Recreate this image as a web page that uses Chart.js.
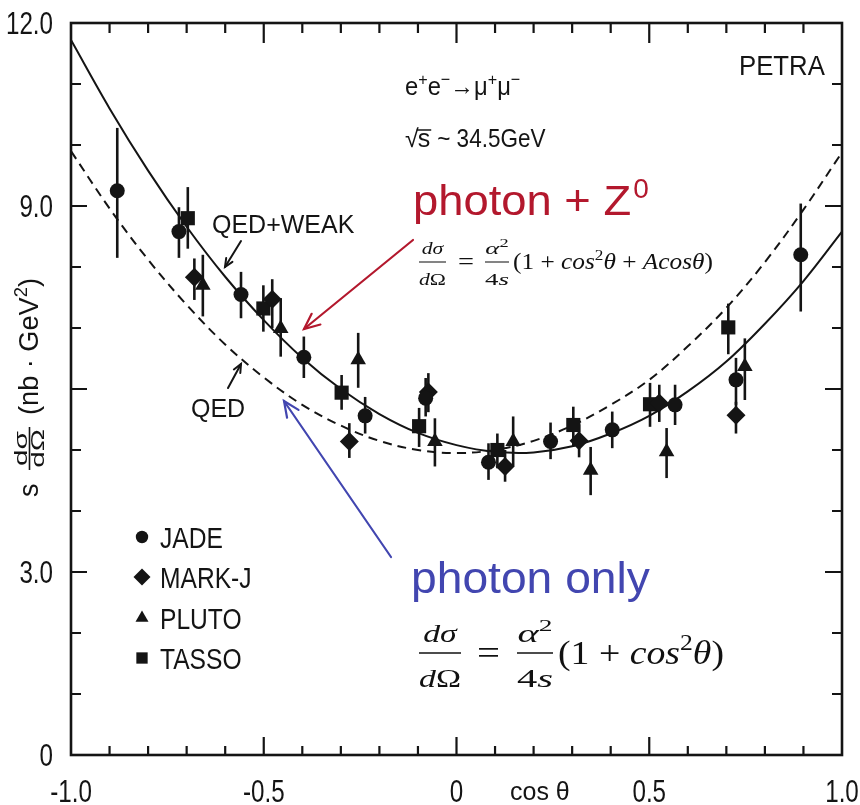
<!DOCTYPE html>
<html><head><meta charset="utf-8">
<script src="https://cdn.jsdelivr.net/npm/chart.js@4.4.1/dist/chart.umd.min.js"></script>
<style>html,body{margin:0;padding:0;background:#fff}canvas{display:block}</style>
</head><body>
<canvas id="c" width="860" height="805"></canvas>
<script>
// ---------------- data ----------------
const curveCos = [-1.0,-0.9,-0.8,-0.7,-0.6,-0.5,-0.4,-0.3,-0.2,-0.1,0.0,0.1,0.2,0.3,0.4,0.5,0.6,0.7,0.8,0.9,1.0];
const qedWeakCurve = [11.72,10.60,9.58,8.66,7.84,7.13,6.51,6.00,5.59,5.28,5.08,4.97,4.96,5.06,5.27,5.56,5.96,6.45,7.07,7.77,8.58];
const qedCurve     = [9.90,8.96,8.12,7.38,6.73,6.19,5.74,5.40,5.15,5.00,4.95,5.00,5.15,5.40,5.74,6.15,6.70,7.33,8.08,8.94,9.88];

const jadeCos = [-0.88,-0.72,-0.559,-0.396,-0.237,-0.08,0.083,0.244,0.404,0.567,0.725,0.893];
const jadeVal = [9.25,8.58,7.55,6.52,5.56,5.85,4.80,5.14,5.33,5.74,6.15,8.20];
const jadeLo  = [8.15,8.15,7.16,6.18,5.27,5.55,4.51,4.85,5.03,5.41,5.74,7.27];
const jadeHi  = [10.28,8.98,7.92,6.86,5.87,6.18,5.11,5.45,5.63,6.07,6.51,9.04];

const markCos = [-0.68,-0.478,-0.278,-0.073,0.126,0.318,0.526,0.725];
const markVal = [7.83,7.47,5.14,5.95,4.73,5.15,5.77,5.57];
const markLo  = [7.46,7.00,4.87,5.62,4.48,4.88,5.46,5.27];
const markHi  = [8.14,7.80,5.44,6.26,5.00,5.42,6.07,5.79];

const plutoCos = [-0.658,-0.456,-0.255,-0.056,0.147,0.348,0.545,0.748];
const plutoVal = [7.70,6.99,6.48,5.14,5.14,4.67,4.97,6.37];
const plutoLo  = [7.19,6.53,6.02,4.73,4.73,4.26,4.54,5.82];
const plutoHi  = [8.20,7.49,6.92,5.52,5.55,5.05,5.36,6.83];

const tassoCos = [-0.697,-0.501,-0.298,-0.097,0.106,0.303,0.502,0.705];
const tassoVal = [8.80,7.32,5.94,5.39,5.00,5.41,5.75,7.01];
const tassoLo  = [8.30,6.94,5.66,5.05,4.70,5.05,5.38,6.57];
const tassoHi  = [9.31,7.70,6.23,5.69,5.27,5.71,6.10,7.40];

const xTickValues = [-1, -0.5, 0, 0.5, 1];
const xTickLabels = ['-1.0', '-0.5', '0', '0.5', '1.0'];
const yTickValues = [0, 3, 9, 12];
const yTickLabels = ['0', '3.0', '9.0', '12.0'];
const legendNames = ['JADE', 'MARK-J', 'PLUTO', 'TASSO'];
// ----------------------------------------------------------------

const INK = '#141414';
const RED = '#b3182d';
const BLUE = '#4246b0';
const SANS = "'Liberation Sans', Arial, sans-serif";
const SERIF = "'Liberation Serif', 'Times New Roman', serif";

const pts = (xs, ys) => xs.map((x, i) => ({x: x, y: ys[i]}));

const experiments = [
  {name: legendNames[0], xs: jadeCos,  ys: jadeVal,  lo: jadeLo,  hi: jadeHi,  style: 'circle',   r: 7.5, lr: 6.2},
  {name: legendNames[1], xs: markCos,  ys: markVal,  lo: markLo,  hi: markHi,  style: 'rectRot',  r: 9.5, lr: 8.5},
  {name: legendNames[2], xs: plutoCos, ys: plutoVal, lo: plutoLo, hi: plutoHi, style: 'triangle', r: 9,   lr: 7.5},
  {name: legendNames[3], xs: tassoCos, ys: tassoVal, lo: tassoLo, hi: tassoHi, style: 'rect',     r: 10,  lr: 8}
];

function txt(ctx, s, x, y, font, color, sx, align) {
  sx = sx || 1;
  ctx.save();
  ctx.font = font; ctx.fillStyle = color;
  ctx.textBaseline = 'alphabetic'; ctx.textAlign = 'left';
  const w = ctx.measureText(s).width * sx;
  const x0 = align === 'center' ? x - w / 2 : (align === 'right' ? x - w : x);
  ctx.translate(x0, y); ctx.scale(sx, 1);
  ctx.fillText(s, 0, 0);
  ctx.restore();
  return w;
}
function runFont(k, size, fam) {
  const sup = k[0] === 's';
  const it = k.indexOf('i') >= 0;
  return {font: (it ? 'italic ' : '') + (sup ? size * 0.68 : size) + 'px ' + fam, sup: sup};
}
function runsWidth(ctx, parts, size, fam) {
  let w = 0;
  ctx.save();
  for (const p of parts) { ctx.font = runFont(p[1], size, fam).font; w += ctx.measureText(p[0]).width; }
  ctx.restore();
  return w;
}
function runs(ctx, parts, x, y, size, fam, color, sx) {
  let cx = x;
  for (const p of parts) {
    const f = runFont(p[1], size, fam);
    cx += txt(ctx, p[0], cx, f.sup ? y - size * 0.42 : y, f.font, color, sx);
  }
  return cx - x;
}
function frac(ctx, num, den, xl, xr, bar, fMain, fr, color) {
  const wn = runsWidth(ctx, num, fr, SERIF), wd = runsWidth(ctx, den, fr, SERIF);
  const sx = Math.min(1.6, (xr - xl) / Math.max(wn, wd));
  const cx = (xl + xr) / 2;
  runs(ctx, num, cx - wn * sx / 2, bar - 0.33 * fMain, fr, SERIF, color, sx);
  runs(ctx, den, cx - wd * sx / 2, bar + 1.0 * fMain, fr, SERIF, color, sx);
  ctx.save(); ctx.strokeStyle = color; ctx.lineWidth = Math.max(1, fMain * 0.045);
  ctx.beginPath(); ctx.moveTo(xl, bar); ctx.lineTo(xr, bar); ctx.stroke(); ctx.restore();
}
function formula(ctx, s) {
  const f = s.f, fr = f * 0.75, col = '#111';
  frac(ctx, [['dσ', 'i']], [['d', 'i'], ['Ω', 'n']], s.f1[0], s.f1[1], s.bar, f, fr, col);
  txt(ctx, '=', s.eq[0], s.bar + 0.32 * f, f + 'px ' + SERIF, col, (s.eq[1] - s.eq[0]) / (f * 0.564));
  frac(ctx, [['α', 'i'], ['2', 's']], [['4', 'n'], ['s', 'i']], s.f2[0], s.f2[1], s.bar, f, fr, col);
  const tw = runsWidth(ctx, s.tail, f, SERIF);
  runs(ctx, s.tail, s.t[0], s.bar + 0.32 * f, f, SERIF, col, (s.t[1] - s.t[0]) / tw);
}
function arrow(ctx, x1, y1, x2, y2, color, lw, hl) {
  ctx.save(); ctx.strokeStyle = color; ctx.lineWidth = lw; ctx.lineCap = 'round';
  ctx.beginPath(); ctx.moveTo(x1, y1); ctx.lineTo(x2, y2); ctx.stroke();
  const a = Math.atan2(y2 - y1, x2 - x1), da = 0.42;
  ctx.beginPath();
  ctx.moveTo(x2 - hl * Math.cos(a - da), y2 - hl * Math.sin(a - da));
  ctx.lineTo(x2, y2);
  ctx.lineTo(x2 - hl * Math.cos(a + da), y2 - hl * Math.sin(a + da));
  ctx.stroke();
  ctx.restore();
}

const deco = {
  id: 'deco',
  beforeDatasetsDraw(chart) {
    const ctx = chart.ctx, xs = chart.scales.x, ys = chart.scales.y;
    ctx.save(); ctx.strokeStyle = INK; ctx.lineWidth = 2.6;
    for (const e of experiments) {
      e.xs.forEach((c, i) => {
        const px = xs.getPixelForValue(c);
        ctx.beginPath();
        ctx.moveTo(px, ys.getPixelForValue(e.lo[i]));
        ctx.lineTo(px, ys.getPixelForValue(e.hi[i]));
        ctx.stroke();
      });
    }
    ctx.restore();
  },
  afterDraw(chart) {
    const ctx = chart.ctx, xs = chart.scales.x, ys = chart.scales.y;
    const L = xs.left, R = xs.right, T = ys.top, B = ys.bottom;
    ctx.save();
    // frame
    ctx.strokeStyle = INK; ctx.lineWidth = 2.6;
    ctx.strokeRect(L, T, R - L, B - T);
    // inward ticks
    ctx.lineWidth = 2.2;
    ctx.beginPath();
    for (let i = -9; i <= 9; i++) {
      const v = i / 10, px = xs.getPixelForValue(v), major = (i % 5 === 0);
      ctx.moveTo(px, B); ctx.lineTo(px, B - (major ? 18 : 9));
      ctx.moveTo(px, T); ctx.lineTo(px, T + (major ? 20 : 10));
    }
    for (let v = 1; v <= 11; v++) {
      const py = ys.getPixelForValue(v), major = (v % 3 === 0);
      ctx.moveTo(L, py); ctx.lineTo(L + (major ? 16 : 10), py);
      ctx.moveTo(R, py); ctx.lineTo(R - (major ? 17 : 10), py);
    }
    ctx.stroke();
    ctx.restore();

    // tick labels
    xTickValues.forEach((v, i) => txt(ctx, xTickLabels[i], xs.getPixelForValue(v), 802, '31px ' + SANS, INK, 0.78, 'center'));
    yTickValues.forEach((v, i) => txt(ctx, yTickLabels[i], 53, ys.getPixelForValue(v) + 11, '31px ' + SANS, INK, 0.78, 'right'));
    txt(ctx, 'cos θ', 510, 800, '25px ' + SANS, INK, 1);

    // y axis title (rotated)
    ctx.save();
    ctx.rotate(-Math.PI / 2);
    txt(ctx, 's', -497, 38, '27px ' + SANS, INK, 1);
    {
      const fr = 18, barV = 29.5, ul = -470, ur = -427;
      const wn = runsWidth(ctx, [['dσ', 'n']], fr, SANS), wd = runsWidth(ctx, [['dΩ', 'n']], fr, SANS);
      const sx = (ur - ul) / Math.max(wn, wd) * 0.9;
      const cu = (ul + ur) / 2;
      txt(ctx, 'dσ', cu - wn * sx / 2, barV - 3, fr + 'px ' + SANS, INK, sx);
      txt(ctx, 'dΩ', cu - wd * sx / 2, barV + 14, fr + 'px ' + SANS, INK, sx);
      ctx.strokeStyle = INK; ctx.lineWidth = 1.6;
      ctx.beginPath(); ctx.moveTo(ul, barV); ctx.lineTo(ur, barV); ctx.stroke();
    }
    {
      const parts = [['(nb · GeV', 'n'], ['2', 's'], [')', 'n']];
      const w = runsWidth(ctx, parts, 27, SANS);
      runs(ctx, parts, -415, 38, 27, SANS, INK, 137 / w);
    }
    ctx.restore();

    // annotations
    txt(ctx, 'PETRA', 739, 75, '28px ' + SANS, INK, 0.92);
    runs(ctx, [['e', 'n'], ['+', 's'], ['e', 'n'], ['−', 's'], ['→', 'n'], ['μ', 'n'], ['+', 's'], ['μ', 'n'], ['−', 's']], 405, 95, 25, SANS, INK, 0.95);
    {
      let x = 405;
      x += txt(ctx, '√', x, 147, '25px ' + SANS, INK, 1);
      const ws = txt(ctx, 's', x - 1, 147, '25px ' + SANS, INK, 1);
      ctx.save(); ctx.strokeStyle = INK; ctx.lineWidth = 1.5;
      ctx.beginPath(); ctx.moveTo(x - 2, 130); ctx.lineTo(x + ws, 130); ctx.stroke(); ctx.restore();
      txt(ctx, '~ 34.5GeV', x + ws + 6, 147, '25px ' + SANS, INK, 0.9);
    }
    txt(ctx, 'QED+WEAK', 212, 233, '25px ' + SANS, INK, 1);
    txt(ctx, 'QED', 191, 417, '25px ' + SANS, INK, 1);
    arrow(ctx, 241, 241, 225, 267, INK, 2, 9);
    arrow(ctx, 228, 388, 241, 364, INK, 2, 9);

    // legend
    experiments.forEach((e, i) => {
      const cy = [537, 577, 618, 658][i];
      ctx.save(); ctx.fillStyle = INK;
      Chart.helpers.drawPoint(ctx, {pointStyle: e.style, radius: e.lr, rotation: 0, borderWidth: 0}, 142, cy);
      ctx.restore();
      txt(ctx, e.name, 160, cy + 11, '30px ' + SANS, INK, 0.82);
    });

    // coloured overlays
    {
      const w = txt(ctx, 'photon + Z', 413, 215, '42px ' + SANS, RED, 1.08);
      txt(ctx, '0', 413 + w + 2, 198, '28px ' + SANS, RED, 1.0);
    }
    arrow(ctx, 413, 240, 304, 329, RED, 2.2, 17);
    formula(ctx, {f: 23, bar: 262, f1: [419, 446], eq: [458, 474], f2: [485, 509], t: [513, 713],
      tail: [['(1 + ', 'n'], ['cos', 'i'], ['2', 's'], ['θ', 'i'], [' + ', 'n'], ['Acos', 'i'], ['θ', 'i'], [')', 'n']]});

    txt(ctx, 'photon only', 411, 593, '44px ' + SANS, BLUE, 1.05);
    arrow(ctx, 391, 557, 284, 401, BLUE, 2.2, 17);
    formula(ctx, {f: 34, bar: 653, f1: [419, 461], eq: [477, 500], f2: [517, 553], t: [558, 724],
      tail: [['(1 + ', 'n'], ['cos', 'i'], ['2', 's'], ['θ', 'i'], [')', 'n']]});
  }
};

const lineDs = (label, ys, dash) => ({
  label: label, data: pts(curveCos, ys), showLine: true, fill: false,
  borderColor: INK, borderWidth: 2, borderDash: dash, pointRadius: 0, pointHoverRadius: 0,
  tension: 0.35, order: 2
});
const markerDs = e => ({
  label: e.name, data: pts(e.xs, e.ys), showLine: false,
  pointStyle: e.style, pointRadius: e.r, pointHoverRadius: e.r,
  backgroundColor: INK, borderColor: INK, borderWidth: 0, order: 0
});

new Chart(document.getElementById('c'), {
  type: 'scatter',
  data: {
    datasets: [
      lineDs('QED+WEAK', qedWeakCurve, []),
      lineDs('QED', qedCurve, [9, 6]),
      ...experiments.map(markerDs)
    ]
  },
  options: {
    responsive: false, animation: false, devicePixelRatio: 1,
    layout: {padding: {top: 23, right: 18, left: 0, bottom: 0}},
    plugins: {legend: {display: false}, tooltip: {enabled: false}},
    scales: {
      x: {type: 'linear', min: -1, max: 1,
          grid: {display: false}, border: {display: false},
          ticks: {display: false},
          afterFit: s => { s.height = 50; }},
      y: {type: 'linear', min: 0, max: 12,
          grid: {display: false}, border: {display: false},
          ticks: {display: false},
          afterFit: s => { s.width = 71; }}
    }
  },
  plugins: [deco]
});
</script>
</body></html>
